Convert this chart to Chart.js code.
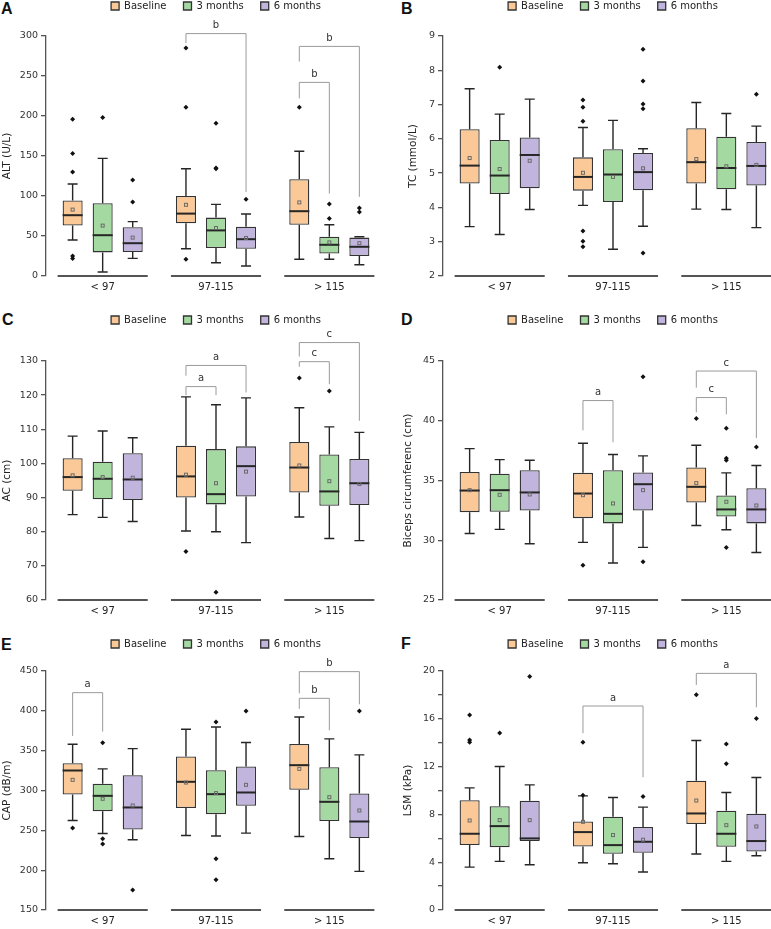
<!DOCTYPE html>
<html>
<head>
<meta charset="utf-8">
<title>Box plots by waist group</title>
<script src="https://cdn.jsdelivr.net/npm/chart.js@4.4.1/dist/chart.umd.min.js"></script>
<style>
  html, body { margin: 0; padding: 0; background: #fff; }
  body { position: relative; width: 771px; height: 929px; overflow: hidden; }
  canvas { position: absolute; }
  .tag { position: absolute; font: bold 16px "Liberation Sans", Arial, sans-serif; line-height: 16px; color: #111; }
</style>
</head>
<body>
<div class="tag" style="left:1px;top:1px">A</div>
<div class="tag" style="left:401px;top:1px">B</div>
<div class="tag" style="left:2px;top:312px">C</div>
<div class="tag" style="left:401px;top:312px">D</div>
<div class="tag" style="left:1px;top:637px">E</div>
<div class="tag" style="left:401px;top:636px">F</div>
<canvas id="chartA"></canvas>
<canvas id="chartB"></canvas>
<canvas id="chartC"></canvas>
<canvas id="chartD"></canvas>
<canvas id="chartE"></canvas>
<canvas id="chartF"></canvas>
<script>
const categories = ['< 97', '97-115', '> 115'];
const seriesNames = ['Baseline', '3 months', '6 months'];
const seriesColors = ['#fac997', '#a4d9a1', '#c1b5de'];

// box rows: [lower whisker, Q1, median, Q3, upper whisker, mean], indexed [series][group]
// outliers: [series][group] -> list of values
// brackets: [group, from series, to series, top, left leg end, right leg end, letter]
const altBox = [
  [[45, 63, 76, 94.5, 115, 83], [34, 66, 78, 100, 134, 89], [21, 64, 81, 121, 156, 92]],
  [[5, 29.5, 51, 91, 147, 63], [16.5, 35, 57, 73, 89.5, 60], [21, 28, 39, 49, 64, 42]],
  [[22, 30, 41, 61, 68, 48], [12.5, 34, 46, 61.5, 77.5, 47.5], [14, 25, 36.5, 48, 49, 41]]
];
const altOut = [
  [[196, 153, 130, 25, 22], [285, 211, 21], [211]],
  [[198], [191, 135, 134], [90, 72]],
  [[120, 92.5], [96], [85, 80]]
];
const altSig = [[1, 0, 2, 303, 291, 105, 'b'], [2, 0, 1, 242, 222, 103, 'b'], [2, 0, 2, 287, 268, 99, 'b']];

const tcBox = [
  [[3.44, 4.70, 5.22, 6.28, 7.46, 5.44], [4.06, 4.49, 4.89, 5.46, 6.33, 5.01], [3.95, 4.70, 5.32, 6.31, 7.06, 5.41]],
  [[3.21, 4.39, 4.93, 5.97, 6.72, 5.12], [2.78, 4.16, 4.96, 5.70, 6.54, 4.89], [3.94, 4.53, 5.15, 6.06, 6.74, 5.20]],
  [[3.94, 4.56, 5.53, 6.04, 7.16, 5.36], [3.45, 4.50, 5.03, 5.59, 5.71, 5.14], [3.41, 4.64, 5.21, 5.91, 6.37, 5.24]]
];
const tcOut = [
  [[], [7.13, 6.92, 6.51, 3.31, 3.01, 2.85], []],
  [[8.09], [], []],
  [[], [8.61, 7.69, 7.02, 6.88, 2.67], [7.30]]
];
const tcSig = [];

const acBox = [
  [[85, 92, 96, 101.5, 108, 96.5], [80.2, 90, 96.2, 105.2, 119.5, 96.7], [84.3, 91.5, 98.8, 106.3, 116.3, 99.4]],
  [[84.2, 89.5, 95.5, 100.5, 109.5, 96], [80, 88, 91, 104.2, 117.2, 94.2], [78, 87.6, 91.8, 102.6, 110.7, 94.8]],
  [[83, 89.3, 95.3, 103, 107.5, 95.8], [76.8, 90.3, 99.2, 105, 119.2, 97.6], [77.4, 87.8, 94.2, 101.3, 109.1, 94]]
];
const acOut = [
  [[], [74.2], [125]],
  [[], [62.3], [121.2]],
  [[], [], []]
];
const acSig = [[1, 0, 1, 122.5, 120, 120, 'a'], [1, 0, 2, 128.7, 125.7, 120.8, 'a'], [2, 0, 1, 129.8, 128.3, 123.2, 'c'], [2, 0, 2, 135.4, 131.3, 112.5, 'c']];

const bicepsBox = [
  [[30.57, 32.35, 34.16, 35.72, 37.67, 34.19], [29.82, 31.85, 33.91, 35.64, 38.12, 33.77], [31.24, 33.16, 34.47, 36.09, 37.95, 34.78]],
  [[30.91, 32.38, 34.19, 35.56, 36.75, 33.80], [28.09, 31.41, 32.21, 35.86, 37.17, 33.08], [30.88, 31.99, 32.58, 33.75, 35.64, 33.22]],
  [[29.71, 32.49, 34.0, 35.86, 36.70, 33.83], [29.40, 32.49, 34.69, 35.67, 37.06, 34.19], [28.98, 31.41, 32.58, 34.36, 36.25, 32.91]]
];
const bicepsOut = [
  [[], [27.9], [40.18]],
  [[], [], [39.37, 36.87, 36.70, 29.40]],
  [[], [43.69, 28.2], [37.81]]
];
const bicepsSig = [[1, 0, 1, 41.69, 39.2, 38.2, 'a'], [2, 0, 1, 41.94, 40.7, 40.54, 'c'], [2, 0, 2, 44.16, 42.77, 38.54, 'c']];

const capBox = [
  [[262.4, 295, 325.1, 334.3, 358, 313.4], [243.6, 277.9, 310.9, 342.6, 376.9, 310], [242.3, 300.8, 331.8, 358.5, 392.3, 327.2]],
  [[246.1, 274.1, 293.3, 308.4, 327.2, 289.6], [242.8, 270.3, 295.4, 325.5, 379.8, 296.7], [214.3, 261.6, 285.8, 329.3, 364.8, 291.6]],
  [[238.2, 251.1, 278.7, 319.2, 352.6, 281.2], [246.5, 280.8, 297.5, 330.1, 360.2, 307.1], [198.5, 240.3, 261.1, 296.2, 344.7, 274.9]]
];
const capOut = [
  [[252.8], [], []],
  [[360, 239.4, 232.7], [386.1, 214.3, 188], []],
  [[175.1], [399.9], [399.9]]
];
const capSig = [[0, 0, 1, 422.8, 368.5, 374, 'a'], [2, 0, 1, 415.7, 402.4, 375.6, 'b'], [2, 0, 2, 449.2, 422, 408.2, 'b']];

const lsmBox = [
  [[3.59, 5.43, 6.38, 9.19, 10.22, 7.49], [3.96, 5.32, 6.52, 7.41, 9.55, 7.38], [4.68, 7.19, 8.08, 10.81, 14.18, 9.16]],
  [[4.07, 5.26, 7.02, 8.69, 12.01, 7.52], [3.87, 4.71, 5.43, 7.80, 9.41, 6.27], [4.07, 5.29, 6.38, 8.30, 9.83, 7.10]],
  [[3.79, 5.77, 5.99, 9.14, 10.47, 7.52], [3.18, 4.79, 5.71, 6.94, 8.61, 5.88], [4.54, 4.90, 5.77, 8.05, 11.09, 6.99]]
];
const lsmOut = [
  [[16.32, 14.23, 14.04], [14.04, 9.6], [18.02]],
  [[14.82], [], [13.9, 12.23]],
  [[19.53], [9.5], [16.02]]
];
const lsmSig = [[1, 0, 2, 17.07, 14.79, 11.11, 'a'], [2, 0, 2, 19.8, 18.83, 16.96, 'a']];

const panels = [
  { id: 'chartA', col: 0, row: 0, title: 'ALT (U/L)', min: 0, max: 300, step: 50, titlePad: 1, box: altBox, out: altOut, sig: altSig },
  { id: 'chartB', col: 1, row: 0, title: 'TC (mmol/L)', min: 2, max: 9, step: 1, titlePad: 22, box: tcBox, out: tcOut, sig: tcSig },
  { id: 'chartC', col: 0, row: 1, title: 'AC (cm)', min: 60, max: 130, step: 10, titlePad: 1, box: acBox, out: acOut, sig: acSig },
  { id: 'chartD', col: 1, row: 1, title: 'Biceps circumferenc (cm)', min: 25, max: 45, step: 5, titlePad: 17, box: bicepsBox, out: bicepsOut, sig: bicepsSig },
  { id: 'chartE', col: 0, row: 2, title: 'CAP (dB/m)', min: 150, max: 450, step: 50, titlePad: 1, box: capBox, out: capOut, sig: capSig },
  { id: 'chartF', col: 1, row: 2, title: 'LSM (kPa)', min: 0, max: 20, step: 2, labelEvery: 4, titlePad: 17, box: lsmBox, out: lsmOut, sig: lsmSig }
];

// canvas placement on the page
const cols = [{ left: 0, axisW: 46, width: 386 }, { left: 385, axisW: 58, width: 398 }];
const rows = [{ top: -16, legendH: 52, height: 316 }, { top: 298, legendH: 63, height: 326 }, { top: 622, legendH: 49, height: 312 }];

const FONT = '"DejaVu Sans", sans-serif';
Chart.defaults.font.family = FONT;
Chart.defaults.color = '#222';

// stretch the legend box so the plot starts lower
function legendHeight(h) {
  return {
    id: 'legendHeight',
    beforeInit(chart) {
      const fit = chart.legend.fit;
      chart.legend.fit = function () {
        fit.call(this);
        this.height = h;
      };
    }
  };
}

// whiskers, medians, means, outliers, group lines and significance brackets
function boxExtras(brackets) {
  return {
    id: 'boxExtras',
    afterDatasetsDraw(chart) {
      const { ctx, chartArea, scales: { y } } = chart;
      const metas = chart.data.datasets.map((d, i) => chart.getDatasetMeta(i).data);
      const py = v => y.getPixelForValue(v);
      ctx.save();

      ctx.strokeStyle = '#555';
      ctx.lineWidth = 2;
      categories.forEach((c, j) => {
        const slot = metas[1][j].x - metas[0][j].x;
        ctx.beginPath();
        ctx.moveTo(metas[0][j].x - slot / 2, chartArea.bottom);
        ctx.lineTo(metas[2][j].x + slot / 2, chartArea.bottom);
        ctx.stroke();
      });

      chart.data.datasets.forEach((ds, i) => {
        metas[i].forEach((bar, j) => {
          const [lo, q1, med, q3, hi, mean] = ds.stats[j];
          const x = bar.x, half = bar.width / 2;
          ctx.strokeStyle = '#262626';
          ctx.lineWidth = 1.4;
          ctx.beginPath();
          ctx.moveTo(x, py(q3)); ctx.lineTo(x, py(hi));
          ctx.moveTo(x - half / 2, py(hi)); ctx.lineTo(x + half / 2, py(hi));
          ctx.moveTo(x, py(q1)); ctx.lineTo(x, py(lo));
          ctx.moveTo(x - half / 2, py(lo)); ctx.lineTo(x + half / 2, py(lo));
          ctx.stroke();

          ctx.lineWidth = 2;
          ctx.beginPath();
          ctx.moveTo(x - half, py(med)); ctx.lineTo(x + half, py(med));
          ctx.stroke();

          ctx.strokeStyle = '#6a6a6a';
          ctx.lineWidth = 1;
          ctx.strokeRect(x - 1.5, py(mean) - 1.5, 3, 3);

          ctx.fillStyle = '#111';
          ds.outliers[j].forEach(v => {
            const yy = py(v);
            ctx.beginPath();
            ctx.moveTo(x, yy - 2.5); ctx.lineTo(x + 2.5, yy);
            ctx.lineTo(x, yy + 2.5); ctx.lineTo(x - 2.5, yy);
            ctx.closePath();
            ctx.fill();
          });
        });
      });

      ctx.strokeStyle = '#9a9a9a';
      ctx.lineWidth = 1;
      ctx.fillStyle = '#333';
      ctx.font = '10px ' + FONT;
      ctx.textAlign = 'center';
      ctx.textBaseline = 'bottom';
      brackets.forEach(([j, a, b, top, endA, endB, mark]) => {
        const xa = metas[a][j].x, xb = metas[b][j].x;
        ctx.beginPath();
        ctx.moveTo(xa, py(endA));
        ctx.lineTo(xa, py(top));
        ctx.lineTo(xb, py(top));
        ctx.lineTo(xb, py(endB));
        ctx.stroke();
        ctx.fillText(mark, (xa + xb) / 2, py(top) - 3);
      });
      ctx.restore();
    }
  };
}

panels.forEach(p => {
  const c = cols[p.col], r = rows[p.row];
  const canvas = document.getElementById(p.id);
  canvas.width = c.width;
  canvas.height = r.height;
  canvas.style.left = c.left + 'px';
  canvas.style.top = r.top + 'px';

  new Chart(canvas, {
    type: 'bar',
    data: {
      labels: categories,
      datasets: seriesNames.map((name, s) => ({
        label: name,
        data: p.box[s].map(v => [v[1], v[3]]),
        stats: p.box[s],
        outliers: p.out[s],
        backgroundColor: seriesColors[s],
        borderColor: '#333',
        borderWidth: 1.3,
        borderSkipped: false,
        categoryPercentage: 0.795,
        barPercentage: 0.667
      }))
    },
    options: {
      responsive: false,
      animation: false,
      devicePixelRatio: 1,
      layout: { padding: 0 },
      plugins: {
        legend: {
          position: 'top',
          fullSize: false,
          labels: { boxWidth: 8, boxHeight: 8, padding: 17, color: '#222', font: { size: 10 } }
        },
        tooltip: { enabled: false }
      },
      scales: {
        x: {
          grid: { display: false, drawTicks: false },
          border: { display: false },
          ticks: { color: '#222', padding: 5, font: { size: 10 } },
          afterFit: s => { s.height = 24; }
        },
        y: {
          min: p.min,
          max: p.max,
          border: { color: '#555', width: 1.3 },
          grid: { drawOnChartArea: false, color: '#555', tickLength: 5, lineWidth: 1.3 },
          ticks: {
            stepSize: p.step,
            color: '#333',
            padding: 3,
            font: { size: 9.5 },
            callback: v => (p.labelEvery && v % p.labelEvery !== 0) ? '' : v
          },
          title: { display: true, text: p.title, color: '#222', font: { size: 10.5 }, padding: { top: p.titlePad, bottom: 0 } },
          afterFit: s => { s.width = c.axisW; }
        }
      }
    },
    plugins: [legendHeight(r.legendH), boxExtras(p.sig)]
  });
});
</script>
</body>
</html>
